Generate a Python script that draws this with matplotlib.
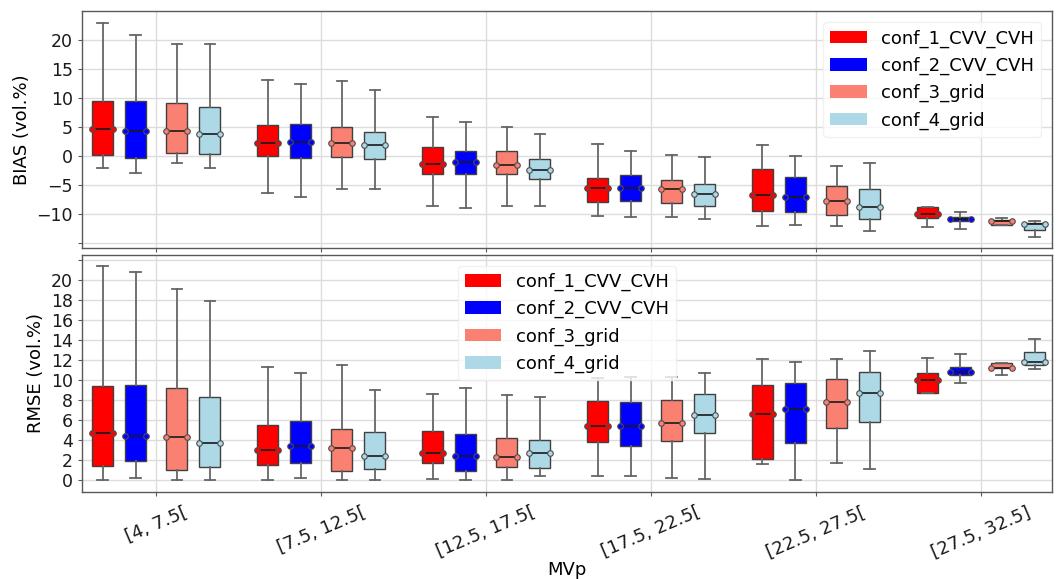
import matplotlib
matplotlib.use('Agg')
import matplotlib.pyplot as plt
from matplotlib.patches import Patch

CATEGORIES = ['[4, 7.5[', '[7.5, 12.5[', '[12.5, 17.5[', '[17.5, 22.5[', '[22.5, 27.5[', '[27.5, 32.5]']
CONFIGS = ['conf_1_CVV_CVH', 'conf_2_CVV_CVH', 'conf_3_grid', 'conf_4_grid']
COLORS = ['red', 'blue', 'salmon', 'lightblue']

# BIAS statistics (rows = configurations, columns = MVp classes)
BIAS_WHISHI = [
    [22.9, 13.1, 6.7, 2.0, 1.85, -8.9],
    [20.9, 12.5, 5.8, 0.75, -0.05, -9.8],
    [19.3, 13.0, 4.9, 0.2, -1.7, -10.7],
    [19.3, 11.3, 3.8, -0.17, -1.2, -11.2],
]
BIAS_Q3 = [
    [9.4, 5.3, 1.45, -3.8, -2.25, -8.9],
    [9.5, 5.5, 0.75, -3.4, -3.75, -10.5],
    [9.2, 5.0, 0.75, -4.1, -5.3, -11.1],
    [8.4, 4.2, -0.6, -4.8, -5.8, -11.6],
]
BIAS_MED = [
    [4.7, 2.3, -1.45, -5.5, -6.8, -10.0],
    [4.3, 2.4, -1.0, -5.5, -7.2, -10.9],
    [4.3, 2.3, -1.55, -5.8, -7.9, -11.3],
    [3.7, 1.8, -2.4, -6.6, -8.8, -11.85],
]
BIAS_Q1 = [
    [0.06, -0.1, -3.1, -8.0, -9.6, -10.75],
    [-0.3, -0.3, -3.2, -7.9, -9.8, -11.2],
    [0.5, -0.2, -3.2, -8.2, -10.2, -11.9],
    [0.4, -0.5, -4.0, -8.7, -10.9, -12.8],
]
BIAS_WHISLO = [
    [-2.1, -6.4, -8.7, -10.35, -12.2, -12.25],
    [-2.9, -7.1, -9.0, -10.5, -12.0, -12.7],
    [-1.3, -5.7, -8.6, -10.5, -12.1, -11.9],
    [-2.1, -5.8, -8.7, -10.9, -13.0, -14.1],
]

# RMSE statistics
RMSE_WHISHI = [
    [21.4, 11.3, 8.57, 10.2, 12.1, 12.17],
    [20.8, 10.7, 9.2, 10.27, 11.83, 12.6],
    [19.1, 11.5, 8.5, 10.27, 12.1, 11.73],
    [17.9, 9.0, 8.27, 10.7, 12.87, 14.07],
]
RMSE_Q3 = [
    [9.4, 5.5, 4.9, 7.9, 9.53, 10.67],
    [9.5, 5.9, 4.6, 7.8, 9.7, 11.27],
    [9.2, 5.13, 4.2, 8.03, 10.1, 11.73],
    [8.3, 4.83, 4.03, 8.6, 10.83, 12.77],
]
RMSE_MED = [
    [4.7, 2.97, 2.7, 5.43, 6.63, 9.97],
    [4.4, 3.43, 2.37, 5.43, 7.13, 10.8],
    [4.3, 3.17, 2.27, 5.67, 7.77, 11.23],
    [3.7, 2.43, 2.7, 6.53, 8.67, 11.77],
]
RMSE_Q1 = [
    [1.4, 1.5, 1.67, 3.77, 2.1, 8.73],
    [1.9, 1.7, 0.93, 3.4, 3.67, 10.47],
    [0.97, 0.87, 1.3, 3.9, 5.17, 11.17],
    [1.33, 1.07, 1.23, 4.73, 5.77, 11.47],
]
RMSE_WHISLO = [
    [0.0, 0.0, 0.13, 0.43, 1.63, 8.73],
    [0.23, 0.17, 0.0, 0.37, 0.0, 9.67],
    [0.0, 0.0, 0.0, 0.17, 1.67, 10.53],
    [0.0, 0.0, 0.4, 0.07, 1.13, 11.1],
]

OFFSETS = [-0.325, -0.125, 0.125, 0.325]
WIDTH = 0.128

plt.rcParams['font.family'] = 'DejaVu Sans'

fig = plt.figure(figsize=(10.56, 5.79), dpi=100)
ax1 = fig.add_axes([82 / 1056, 1 - 248.3 / 579, (1052 - 82) / 1056, (248.3 - 11.3) / 579])
ax2 = fig.add_axes([82 / 1056, 1 - 492 / 579, (1052 - 82) / 1056, (492 - 254.7) / 579])


def draw(ax, whishi, q3, med, q1, whislo):
    for c in range(len(CONFIGS)):
        stats = []
        pos = []
        for g in range(len(CATEGORIES)):
            stats.append(dict(med=med[c][g], q1=q1[c][g], q3=q3[c][g],
                              whislo=whislo[c][g], whishi=whishi[c][g], fliers=[]))
            pos.append(g + OFFSETS[c])
        ax.bxp(stats, positions=pos, widths=WIDTH, patch_artist=True,
               showfliers=False, manage_ticks=False,
               boxprops=dict(facecolor=COLORS[c], edgecolor='0.25', linewidth=1.0),
               whiskerprops=dict(color='0.4', linewidth=1.3),
               capprops=dict(color='0.4', linewidth=1.3),
               medianprops=dict(color='0.1', linewidth=1.2, marker='o',
                                markersize=4, markerfacecolor=COLORS[c],
                                markeredgecolor='0.3', markeredgewidth=0.8),
               zorder=3)
    ax.set_xlim(-0.45, 5.43)
    ax.set_xticks(range(len(CATEGORIES)))
    ax.grid(True, color='#dcdcdc', linewidth=1.0, zorder=0)
    ax.set_axisbelow(True)
    for s in ax.spines.values():
        s.set_color('0.35')
        s.set_linewidth(1.0)
    ax.tick_params(axis='both', labelsize=12.5, colors='0.1', length=3, color='0.35')


draw(ax1, BIAS_WHISHI, BIAS_Q3, BIAS_MED, BIAS_Q1, BIAS_WHISLO)
draw(ax2, RMSE_WHISHI, RMSE_Q3, RMSE_MED, RMSE_Q1, RMSE_WHISLO)

ax1.set_ylim(-16, 25)
ax1.set_yticks([-15, -10, -5, 0, 5, 10, 15, 20])
ax1.set_yticklabels(['', '\u221210', '\u22125', '0', '5', '10', '15', '20'])
ax1.set_xticklabels([])
ax1.set_ylabel('BIAS (vol.%)', fontsize=13)

ax2.set_ylim(-1.2, 22.5)
ax2.set_yticks(list(range(0, 23, 2)))
ax2.set_yticklabels([str(v) for v in range(0, 21, 2)] + [''])
ax2.set_xticklabels(CATEGORIES, rotation=23, ha='center', fontsize=13)
ax2.tick_params(axis='x', pad=5)
ax2.set_ylabel('RMSE (vol.%)', fontsize=13)
ax2.set_xlabel('MVp', fontsize=13)
ax2.xaxis.set_label_coords(0.5, -0.29)
ax2.xaxis.label.set_va('top')

handles = [Patch(facecolor=col, label=lab) for col, lab in zip(COLORS, CONFIGS)]
ax1.legend(handles=handles, loc='upper right', fontsize=13, framealpha=0.8,
           edgecolor='#eeeeee', borderaxespad=0.6)
ax2.legend(handles=handles, loc='upper center', fontsize=13, framealpha=0.8,
           edgecolor='#eeeeee', borderaxespad=0.6)

fig.savefig('out.png', dpi=100)
